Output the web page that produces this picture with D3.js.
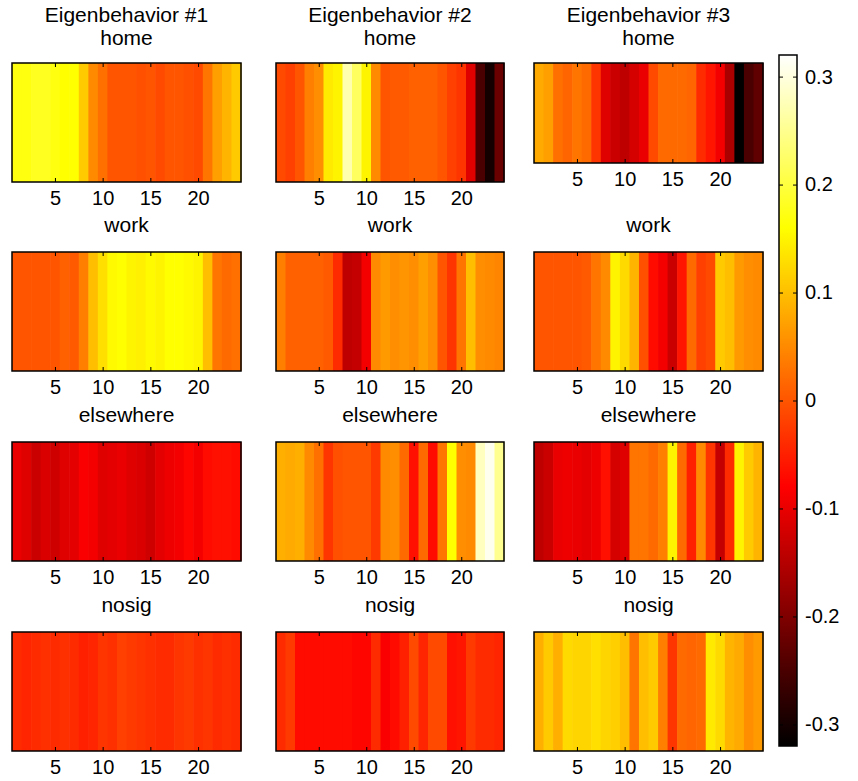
<!DOCTYPE html>
<html>
<head>
<meta charset="utf-8">
<script src="https://cdn.jsdelivr.net/npm/d3@7"></script>
<style>
  body { margin: 0; background: #fff; }
  text { font-family: "Liberation Sans", Arial, sans-serif; fill: #000; }
</style>
</head>
<body>
<div id="chart"></div>
<script>
// hours of the day (columns of each strip)
const hours = [1,2,3,4,5,6,7,8,9,10,11,12,13,14,15,16,17,18,19,20,21,22,23,24];
const eigenTitles = ["Eigenbehavior #1", "Eigenbehavior #2", "Eigenbehavior #3"];
const locations = ["home", "work", "elsewhere", "nosig"];
const xTicks = [5, 10, 15, 20];
const cbTicks = [0.3, 0.2, 0.1, 0, -0.1, -0.2, -0.3];

// values, one per hour
const eb1Home = [0.17,0.17,0.18,0.18,0.17,0.16,0.16,0.11,0.05,0.025,0.0,0.0,0.0,-0.005,0.0,-0.01,0.0,0.0,-0.005,-0.01,0.03,0.07,0.09,0.11];
const eb2Home = [-0.01,-0.02,0.0,0.04,0.055,0.14,0.15,0.27,0.22,0.15,0.05,0.0,0.005,0.005,0.01,0.01,0.01,0.0,-0.02,-0.03,-0.11,-0.25,-0.3,-0.22];
const eb3Home = [0.08,0.07,0.025,0.015,0.03,0.02,-0.03,-0.11,-0.13,-0.14,-0.12,-0.1,-0.01,0.02,0.02,0.02,0.015,-0.04,-0.06,-0.09,-0.16,-0.32,-0.25,-0.23];

const eb1Work = [0.0,0.0,0.0,0.0,0.0,0.01,0.005,0.04,0.1,0.13,0.155,0.16,0.15,0.145,0.155,0.15,0.16,0.16,0.155,0.15,0.1,0.03,0.02,0.025];
const eb2Work = [0.04,0.01,0.01,0.01,0.01,0.005,-0.04,-0.14,-0.135,-0.09,0.05,0.065,0.055,0.06,0.055,0.07,0.055,0.0,-0.03,0.03,0.1,0.055,0.05,0.045];
const eb3Work = [0.0,0.0,0.0,0.0,0.0,0.005,0.03,0.05,0.15,0.125,0.09,-0.005,-0.07,-0.09,-0.13,-0.06,0.02,-0.02,-0.01,0.11,0.1,0.065,0.055,0.05];

const eb1Else = [-0.1,-0.11,-0.13,-0.115,-0.125,-0.11,-0.105,-0.085,-0.09,-0.11,-0.105,-0.1,-0.11,-0.115,-0.125,-0.105,-0.095,-0.09,-0.075,-0.09,-0.07,-0.065,-0.065,-0.07];
const eb2Else = [0.085,0.08,0.085,0.05,0.025,-0.03,-0.005,0.0,0.0,0.0,-0.025,0.05,0.055,0.02,-0.065,0.02,-0.07,0.03,0.16,0.055,0.05,0.28,0.31,0.25];
const eb3Else = [-0.14,-0.13,-0.1,-0.095,-0.1,-0.105,-0.095,-0.065,-0.12,-0.11,0.03,0.03,0.02,0.04,0.15,0.02,-0.05,0.05,-0.03,-0.135,-0.04,0.15,0.11,0.09];

const eb1Nosig = [-0.04,-0.045,-0.04,-0.035,-0.04,-0.035,-0.04,-0.05,-0.045,-0.03,-0.035,-0.02,-0.025,-0.03,-0.035,-0.04,-0.04,-0.03,-0.025,-0.035,-0.03,-0.04,-0.035,-0.04];
const eb2Nosig = [-0.04,-0.025,-0.07,-0.07,-0.07,-0.07,-0.07,-0.07,-0.075,-0.075,-0.04,-0.085,-0.07,-0.05,-0.01,-0.045,-0.01,-0.01,-0.065,-0.06,-0.025,-0.04,-0.04,-0.045];
const eb3Nosig = [0.085,0.11,0.085,0.125,0.12,0.12,0.13,0.12,0.115,0.1,0.03,0.1,0.11,0.04,-0.03,0.02,0.015,0.02,0.14,0.125,0.09,0.08,0.055,0.065];

// rows = locations, columns = eigenbehaviors
const grid = [
  [eb1Home, eb2Home, eb3Home],
  [eb1Work, eb2Work, eb3Work],
  [eb1Else, eb2Else, eb3Else],
  [eb1Nosig, eb2Nosig, eb3Nosig]
];

const W = 858, H = 781;
const svg = d3.select("#chart").append("svg")
  .attr("width", W).attr("height", H);

// matlab "hot" colormap: black -> red -> yellow -> white
const hot = t => {
  const r = Math.min(1, t / 0.375);
  const g = Math.max(0, Math.min(1, (t - 0.375) / 0.375));
  const b = Math.max(0, Math.min(1, (t - 0.75) / 0.25));
  return d3.rgb(r * 255, g * 255, b * 255).toString();
};
const cMin = -0.32, cMax = 0.32;
const color = d3.scaleSequential(hot).domain([cMin, cMax]).clamp(true);

// panel geometry
const colX = [[12, 241], [276, 504], [534, 763]];
const rowY = [[63, 182], [252, 371], [442, 561], [632, 751]];
const fs = 20, fsLab = 21;
const fontFam = '"Liberation Sans", Arial, sans-serif';

grid.forEach((row, ri) => {
  row.forEach((vals, ci) => {
    let [y0, y1] = rowY[ri];
    if (ri === 0 && ci === 2) y1 = 163;   // third home panel is shorter
    const [x0, x1] = colX[ci];
    const x = d3.scaleLinear().domain([0.5, 24.5]).range([x0, x1]);
    const g = svg.append("g");

    g.selectAll("rect.cell")
      .data(hours)
      .enter().append("rect")
      .attr("class", "cell")
      .attr("x", h => x(h - 0.5))
      .attr("y", y0)
      .attr("width", h => x(h + 0.5) - x(h - 0.5) + 0.6)
      .attr("height", y1 - y0)
      .attr("fill", (h, i) => color(vals[i]));

    // bottom axis with matlab style inward ticks
    const axB = g.append("g").attr("transform", `translate(0,${y1})`)
      .call(d3.axisBottom(x).tickValues(xTicks).tickSize(-4).tickPadding(9));
    axB.select(".domain").remove();
    axB.selectAll("line").attr("stroke", "#000");
    axB.selectAll("text").style("font-size", fs + "px").style("font-family", fontFam);

    const axT = g.append("g").attr("transform", `translate(0,${y0})`)
      .call(d3.axisTop(x).tickValues(xTicks).tickSize(-4).tickFormat(""));
    axT.select(".domain").remove();
    axT.selectAll("line").attr("stroke", "#000");

    g.append("rect")
      .attr("x", x0).attr("y", y0)
      .attr("width", x1 - x0).attr("height", y1 - y0)
      .attr("fill", "none").attr("stroke", "#000").attr("stroke-width", 1.5);

    // location label above each panel
    g.append("text")
      .attr("x", (x0 + x1) / 2)
      .attr("y", ri === 0 ? y0 - 18 : y0 - 20)
      .attr("text-anchor", "middle")
      .style("font-size", fsLab + "px")
      .text(locations[ri]);

    if (ri === 0) {
      g.append("text")
        .attr("x", (x0 + x1) / 2)
        .attr("y", 22)
        .attr("text-anchor", "middle")
        .style("font-size", fsLab + "px")
        .text(eigenTitles[ci]);
    }
  });
});

// colorbar
const cbX = 779, cbW = 18, cbTop = 55, cbBot = 746;
const cy = d3.scaleLinear().domain([cMin, cMax]).range([cbBot, cbTop]);

const defs = svg.append("defs");
const grad = defs.append("linearGradient")
  .attr("id", "hot-grad")
  .attr("x1", "0%").attr("y1", "100%")
  .attr("x2", "0%").attr("y2", "0%");
[0, 0.375, 0.75, 1].forEach(t => {
  grad.append("stop").attr("offset", (t * 100) + "%").attr("stop-color", hot(t));
});

svg.append("rect")
  .attr("x", cbX).attr("y", cbTop)
  .attr("width", cbW).attr("height", cbBot - cbTop)
  .attr("fill", "url(#hot-grad)")
  .attr("stroke", "#000").attr("stroke-width", 1.5);

const cbAxis = svg.append("g").attr("transform", `translate(${cbX + cbW},0)`)
  .call(d3.axisRight(cy).tickValues(cbTicks).tickSize(-4).tickPadding(8)
    .tickFormat(d => d === 0 ? "0" : d.toFixed(1)));
cbAxis.select(".domain").remove();
cbAxis.selectAll("line").attr("stroke", "#000");
cbAxis.selectAll("text").style("font-size", fs + "px").style("font-family", fontFam);

const cbAxisL = svg.append("g").attr("transform", `translate(${cbX},0)`)
  .call(d3.axisLeft(cy).tickValues(cbTicks).tickSize(-4).tickFormat(""));
cbAxisL.select(".domain").remove();
cbAxisL.selectAll("line").attr("stroke", "#000");
</script>
</body>
</html>
